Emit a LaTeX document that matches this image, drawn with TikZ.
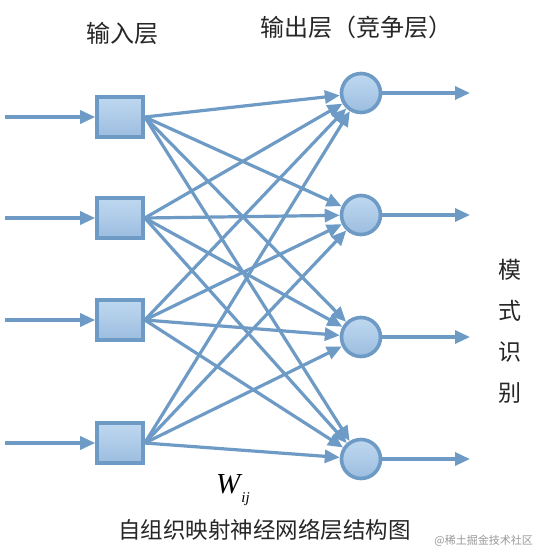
\documentclass[tikz,border=0pt]{standalone}
\usepackage{fontspec}
\usetikzlibrary{arrows.meta}
\newfontfamily\cjk{Noto Sans CJK SC}
\newfontfamily\tms{Liberation Serif}
\definecolor{lineblue}{HTML}{6E9BC6}
\definecolor{filltop}{HTML}{BFD8F0}
\definecolor{fillbot}{HTML}{9CBDE0}
\tikzset{
  conn/.style={draw=lineblue, line width=3.2pt, -{Triangle[length=15pt,width=13pt]}},
  inbox/.style={draw=lineblue, line width=3.6pt, rectangle, minimum width=46pt, minimum height=40pt, top color=filltop, bottom color=fillbot, inner sep=0pt},
  outnode/.style={draw=lineblue, line width=3.6pt, circle, minimum size=39pt, top color=filltop, bottom color=fillbot, inner sep=0pt},
  lbl/.style={font=\cjk\fontsize{24}{26}\selectfont, text=black!85, inner sep=0pt},
  vlbl/.style={font=\cjk\fontsize{23}{26}\selectfont, text=black!85, inner sep=0pt}
}
\begin{document}
\begin{tikzpicture}[x=1pt,y=-1pt]
\useasboundingbox (0,0) rectangle (537,550);
\fill[white] (0,0) rectangle (537,550);
% input squares
\node[inbox] (s1) at (120,117) {};
\node[inbox] (s2) at (120,218) {};
\node[inbox] (s3) at (120,320) {};
\node[inbox] (s4) at (120,443) {};
% output circles
\node[outnode] (c1) at (361,93) {};
\node[outnode] (c2) at (361,215) {};
\node[outnode] (c3) at (361,337) {};
\node[outnode] (c4) at (361,459) {};
% free ends
\coordinate (i1) at (5,117);
\coordinate (i2) at (5,218);
\coordinate (i3) at (5,320);
\coordinate (i4) at (5,443);
\coordinate (o1) at (470,93);
\coordinate (o2) at (470,215);
\coordinate (o3) at (470,337);
\coordinate (o4) at (470,459);
\foreach \k in {1,2,3,4}{
  \draw[conn] (i\k) -- (s\k.west);
  \draw[conn] (c\k.east) -- (o\k);
}
\foreach \a in {1,2,3,4}{
  \foreach \b in {1,2,3,4}{
    \draw[conn] (s\a.east) -- (c\b);
  }
}
% labels
\node[lbl] (tin) at (122,33) {输入层};
\node[lbl, anchor=west] (tout) at (260,27) {输出层（竞争层）};
\node[vlbl] (m1) at (510,270) {模};
\node[vlbl] (m2) at (510,311) {式};
\node[vlbl] (m3) at (510,352) {识};
\node[vlbl] (m4) at (510,393) {别};
\node[inner sep=0pt, anchor=west] (w) at (216,490) {\tms\itshape\fontsize{29}{30}\selectfont W\kern1pt\raisebox{-9pt}{\fontsize{15}{16}\selectfont ij}};
\node[lbl, anchor=west, font=\cjk\fontsize{22.5}{24}\selectfont] (cap) at (118,530) {自组织映射神经网络层结构图};
\node[inner sep=0pt, anchor=east, font=\cjk\fontsize{11}{12}\selectfont, text=black!40] (wm) at (533,541) {@稀土掘金技术社区};
\end{tikzpicture}
\end{document}
